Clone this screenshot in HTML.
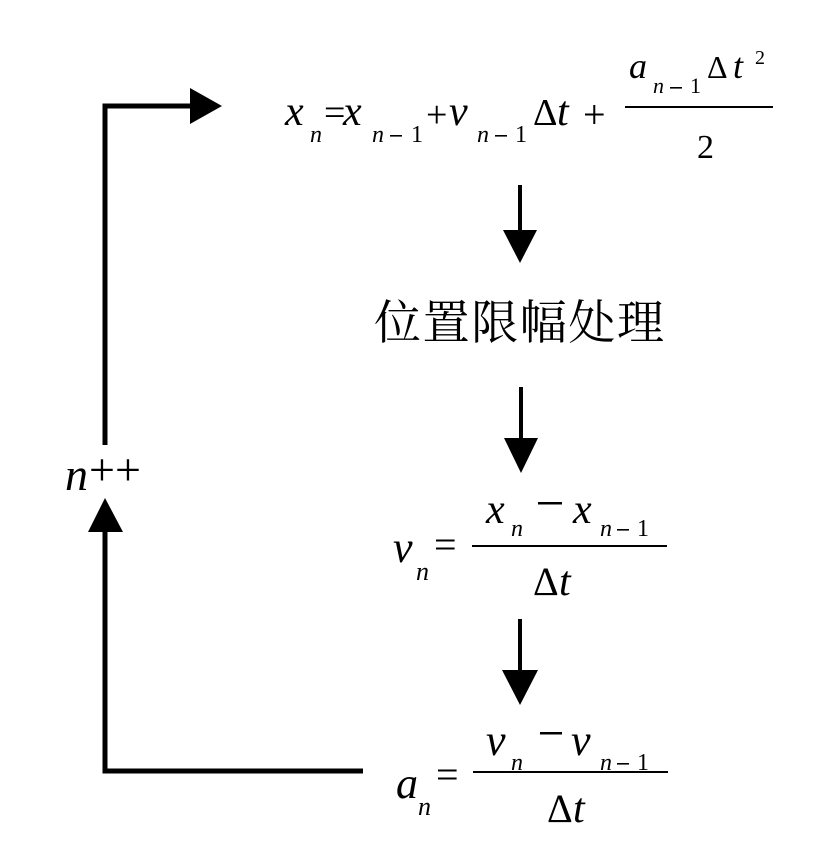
<!DOCTYPE html>
<html>
<head>
<meta charset="utf-8">
<style>
html,body{margin:0;padding:0;background:#fff;}
svg{display:block;}
svg text{font-family:"Liberation Serif","Times New Roman","DejaVu Serif","Noto Serif","FreeSerif","Nimbus Roman",serif;fill:#000;}
svg text.i{font-style:italic;}
svg text.cjk{font-family:"Noto Serif CJK SC","Noto Serif CJK JP","AR PL UMing CN","Liberation Serif","WenQuanYi Zen Hei",serif;}
</style>
</head>
<body>
<svg width="833" height="862" viewBox="0 0 833 862" xmlns="http://www.w3.org/2000/svg">
  <rect width="833" height="862" fill="#fff"/>

  <!-- Feedback loop connector -->
  <polyline points="105,445 105,106 192,106" fill="none" stroke="#000" stroke-width="5" stroke-linejoin="miter"/>
  <polygon points="190,88 222,106 190,124" fill="#000"/>
  <polyline points="105,530 105,771 363,771" fill="none" stroke="#000" stroke-width="5" stroke-linejoin="miter"/>
  <polygon points="88,532 105,498 123,532" fill="#000"/>

  <!-- n++ -->
  <text class="i" x="65" y="490" font-size="46">n</text>
  <text x="89" y="485" font-size="46">+</text>
  <text x="115" y="485" font-size="46">+</text>

  <!-- Top equation -->
  <text class="i" x="285" y="125" font-size="42">x</text>
  <text class="i" x="310" y="142" font-size="24">n</text>
  <text x="324" y="125" font-size="38">=</text>
  <text class="i" x="343" y="125" font-size="42">x</text>
  <text class="i" x="372" y="142" font-size="24">n</text>
  <rect x="390" y="135" width="12" height="1.6" fill="#000"/>
  <text x="411" y="142" font-size="24">1</text>
  <text x="426" y="127" font-size="38">+</text>
  <text class="i" x="449" y="125" font-size="42">v</text>
  <text class="i" x="477" y="142" font-size="24">n</text>
  <rect x="495" y="135" width="12" height="1.6" fill="#000"/>
  <text x="515" y="142" font-size="24">1</text>
  <text x="533" y="125" font-size="38">Δ</text>
  <text class="i" x="557" y="125" font-size="42">t</text>
  <text x="583" y="128" font-size="40">+</text>
  <rect x="625" y="106" width="148" height="2" fill="#000"/>
  <text class="i" x="629" y="78" font-size="36">a</text>
  <text class="i" x="653" y="93" font-size="22">n</text>
  <rect x="670" y="87" width="12" height="1.6" fill="#000"/>
  <text x="690" y="93" font-size="22">1</text>
  <text x="707" y="78" font-size="32">Δ</text>
  <text class="i" x="733" y="78" font-size="36">t</text>
  <text x="755" y="64" font-size="20">2</text>
  <text x="697" y="158" font-size="34">2</text>

  <!-- Arrow 1 -->
  <line x1="520" y1="185" x2="520" y2="232" stroke="#000" stroke-width="4"/>
  <polygon points="503,230 537,230 520,263" fill="#000"/>

  <!-- Chinese label -->
  <text class="cjk" x="374" y="339" font-size="47" textLength="290" lengthAdjust="spacing">位置限幅处理</text>

  <!-- Arrow 2 -->
  <line x1="521" y1="387" x2="521" y2="440" stroke="#000" stroke-width="4"/>
  <polygon points="504,438 538,438 521,473" fill="#000"/>

  <!-- v_n equation -->
  <text class="i" x="393" y="562" font-size="44">v</text>
  <text class="i" x="416" y="580" font-size="26">n</text>
  <text x="434" y="558" font-size="40">=</text>
  <rect x="472" y="545" width="195" height="2" fill="#000"/>
  <text class="i" x="486" y="523" font-size="42">x</text>
  <text class="i" x="511" y="536" font-size="24">n</text>
  <rect x="538" y="502" width="24" height="2.5" fill="#000"/>
  <text class="i" x="573" y="523" font-size="42">x</text>
  <text class="i" x="600" y="536" font-size="24">n</text>
  <rect x="617" y="529" width="12" height="1.6" fill="#000"/>
  <text x="637" y="536" font-size="24">1</text>
  <text x="533" y="595" font-size="40">Δ</text>
  <text class="i" x="559" y="595" font-size="42">t</text>

  <!-- Arrow 3 -->
  <line x1="520" y1="619" x2="520" y2="672" stroke="#000" stroke-width="4"/>
  <polygon points="502,670 538,670 520,705" fill="#000"/>

  <!-- a_n equation -->
  <text class="i" x="396" y="798" font-size="44">a</text>
  <text class="i" x="418" y="815" font-size="26">n</text>
  <text x="436" y="788" font-size="40">=</text>
  <rect x="473" y="771" width="195" height="2" fill="#000"/>
  <text class="i" x="486" y="755" font-size="44">v</text>
  <text class="i" x="511" y="770" font-size="24">n</text>
  <rect x="540" y="732" width="22" height="2.5" fill="#000"/>
  <text class="i" x="571" y="755" font-size="44">v</text>
  <text class="i" x="600" y="770" font-size="24">n</text>
  <rect x="617" y="763" width="12" height="1.6" fill="#000"/>
  <text x="637" y="770" font-size="24">1</text>
  <text x="547" y="822" font-size="40">Δ</text>
  <text class="i" x="573" y="822" font-size="42">t</text>
</svg>
</body>
</html>
